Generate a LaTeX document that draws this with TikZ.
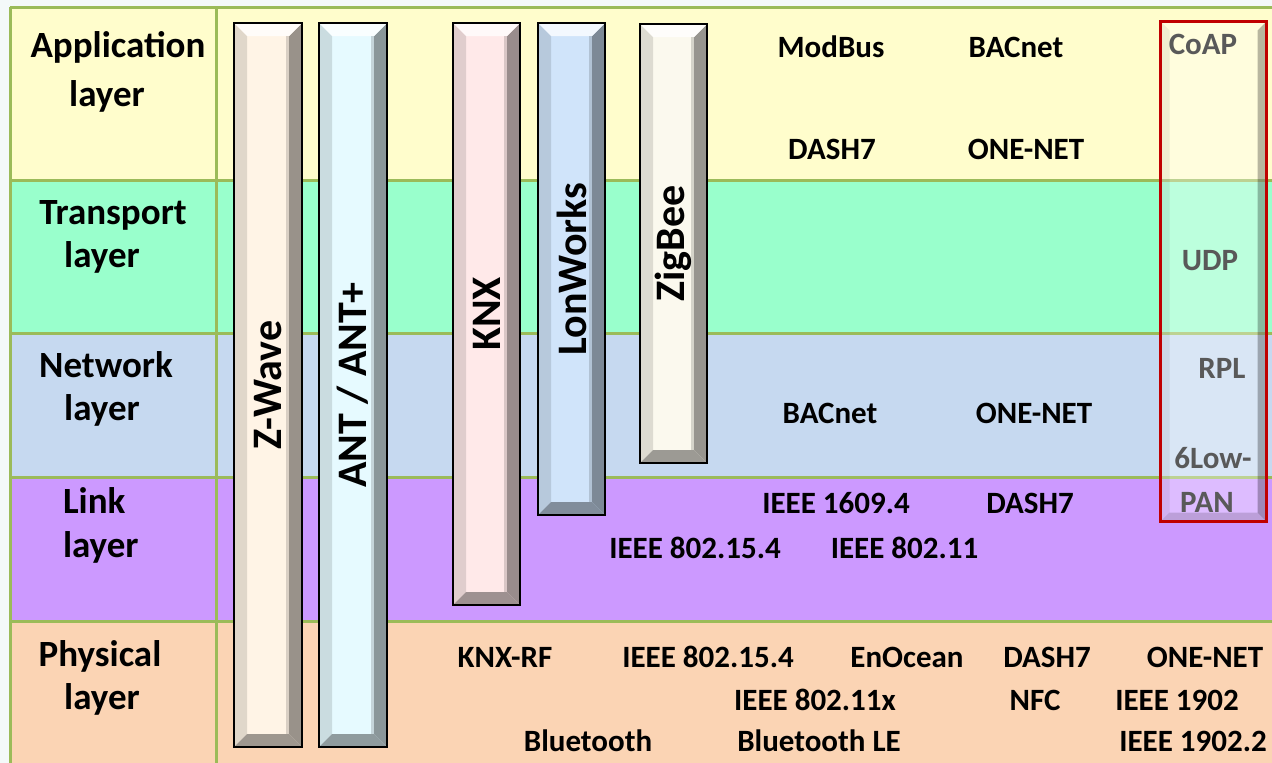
\documentclass[tikz,border=0pt]{standalone}
\usepackage{fontspec}
\setmainfont{Carlito}
\usetikzlibrary{calc}
\definecolor{bgc}{HTML}{F4F9F9}
\definecolor{appc}{HTML}{FFFDCC}
\definecolor{trc}{HTML}{99FFCC}
\definecolor{netc}{HTML}{C6D9F0}
\definecolor{linkc}{HTML}{CC99FF}
\definecolor{phyc}{HTML}{FBD4B4}
\definecolor{gridc}{HTML}{9BBB59}
\definecolor{zwc}{HTML}{FFF4E6}
\definecolor{antc}{HTML}{E6FAFF}
\definecolor{knxc}{HTML}{FFE9E9}
\definecolor{lonc}{HTML}{D0E4FA}
\definecolor{zigc}{HTML}{FBF9EE}
\definecolor{redc}{HTML}{C00000}
\definecolor{grayt}{HTML}{595959}
\begin{document}
\begin{tikzpicture}[x=1pt,y=-1pt,
  every node/.style={inner sep=0pt, outer sep=0pt},
  lbl/.style={anchor=base, font=\fontsize{37}{44}\selectfont\bfseries},
  txt/.style={anchor=base, font=\fontsize{31}{37}\selectfont\bfseries},
  gtxt/.style={txt, text=grayt},
  bar/.style={rectangle, draw=black, line width=2.5pt, fill=#1,
    font=\fontsize{42}{50}\selectfont\bfseries,
    path picture={
      \path (path picture bounding box.north west) coordinate (pnw)
            (path picture bounding box.south east) coordinate (pse)
            (pnw -| pse) coordinate (pne) (pnw |- pse) coordinate (psw);
      \fill[#1!88!black] (pnw) -- ($(pnw)+(13,13)$) -- ($(psw)+(13,-13)$) -- (psw) -- cycle;
      \fill[#1!60!black] (pne) -- ($(pne)+(-13,13)$) -- ($(pse)+(-13,-13)$) -- (pse) -- cycle;
      \fill[#1!62!black] (psw) -- ($(psw)+(13,-13)$) -- ($(pse)+(-13,-13)$) -- (pse) -- cycle;
      \fill[white!75!#1] (pnw) -- ($(pnw)+(13,13)$) -- ($(pne)+(-13,13)$) -- (pne) -- cycle;
      \fill[#1!85!black] ($(pne)+(-16,13)$) rectangle ($(pse)+(-13,-13)$);
    }}]
\useasboundingbox (0,0) rectangle (1272,763);
\fill[bgc] (0,0) rectangle (1272,763);
% rows
\fill[appc] (10,7) rectangle (1272,180);
\fill[trc] (10,180) rectangle (1272,333);
\fill[netc] (10,333) rectangle (1272,477);
\fill[linkc] (10,477) rectangle (1272,621);
\fill[phyc] (10,621) rectangle (1272,763);
\begin{scope}[draw=gridc, line width=3pt]
\draw (10,7) -- (1272,7);
\draw (10,180) -- (1272,180);
\draw (10,333) -- (1272,333);
\draw (10,477) -- (1272,477);
\draw (10,621) -- (1272,621);
\draw (10,7) -- (10,763);
\draw (216,7) -- (216,763);
\end{scope}
% row labels
\node[lbl] (app1) at (118,57) {Application};
\node[lbl] (app2) at (107,106) {layer};
\node[lbl] (tr1) at (113,224) {Transport};
\node[lbl] (tr2) at (102,267) {layer};
\node[lbl] (net1) at (106,377) {Network};
\node[lbl] (net2) at (102,420) {layer};
\node[lbl, anchor=base west] (lk1) at (63,513) {Link};
\node[lbl, anchor=base west] (lk2) at (63,557) {layer};
\node[lbl] (ph1) at (100,666) {Physical};
\node[lbl] (ph2) at (102,709) {layer};
% vertical bars
\node[bar=zwc, minimum width=68, minimum height=724] (zwave) at (268,385) {\rotatebox{90}{Z-Wave}};
\node[bar=antc, minimum width=68, minimum height=724] (ant) at (353,385) {\rotatebox{90}{ANT / ANT+}};
\node[bar=knxc, minimum width=67, minimum height=582] (knx) at (486.5,314) {\rotatebox{90}{KNX}};
\node[bar=lonc, minimum width=67, minimum height=492] (lon) at (571.5,269) {\rotatebox{90}{LonWorks}};
\node[bar=zigc, minimum width=67, minimum height=439] (zig) at (673.5,243.5) {\rotatebox{90}{ZigBee}};
% 6LoWPAN stack box
\node[rectangle, minimum width=106, minimum height=500, fill=white, fill opacity=0.35,
  path picture={
    \path (path picture bounding box.north west) coordinate (qnw)
          (path picture bounding box.south east) coordinate (qse)
          (qnw -| qse) coordinate (qne) (qnw |- qse) coordinate (qsw);
    \fill[black, fill opacity=0.28] (qne) -- ($(qne)+(-9,9)$) -- ($(qse)+(-9,-9)$) -- (qse) -- cycle;
    \fill[black, fill opacity=0.15] (qsw) -- ($(qsw)+(9,-9)$) -- ($(qse)+(-9,-9)$) -- (qse) -- cycle;
    \fill[black, fill opacity=0.06] (qnw) -- ($(qnw)+(9,9)$) -- ($(qsw)+(9,-9)$) -- (qsw) -- cycle;
  }] (lowpan) at (1213.5,271.5) {};
\draw[redc, line width=3pt] (lowpan.north west) rectangle (lowpan.south east);
\node[gtxt] (coap) at (1203,54) {CoAP};
\node[gtxt] (udp) at (1210,270) {UDP};
\node[gtxt] (rpl) at (1222,378) {RPL};
\node[gtxt] (low) at (1213,468) {6Low-};
\node[gtxt] (pan) at (1207,512) {PAN};
% application row
\node[txt] (modbus) at (831,57) {ModBus};
\node[txt] (bacapp) at (1016,57) {BACnet};
\node[txt] (dashapp) at (832,159) {DASH7};
\node[txt] (oneapp) at (1026,159) {ONE-NET};
% network row
\node[txt] (bacnet) at (830,423) {BACnet};
\node[txt] (onenet) at (1034,423) {ONE-NET};
% link row
\node[txt] (i1609) at (836,513) {IEEE 1609.4};
\node[txt] (dashlk) at (1030,513) {DASH7};
\node[txt] (i154lk) at (695,558) {IEEE 802.15.4};
\node[txt] (i80211) at (904.5,558) {IEEE 802.11};
% physical row
\node[txt] (knxrf) at (505,667) {KNX-RF};
\node[txt] (i154ph) at (708,667) {IEEE 802.15.4};
\node[txt] (enocean) at (907,667) {EnOcean};
\node[txt] (dashph) at (1047,667) {DASH7};
\node[txt] (oneph) at (1205,667) {ONE-NET};
\node[txt] (i80211x) at (815,710) {IEEE 802.11x};
\node[txt] (nfc) at (1035,710) {NFC};
\node[txt] (i1902) at (1177,710) {IEEE 1902};
\node[txt] (bt) at (588,751) {Bluetooth};
\node[txt] (btle) at (819,751) {Bluetooth LE};
\node[txt] (i19022) at (1193,751) {IEEE 1902.2};
\end{tikzpicture}
\end{document}
